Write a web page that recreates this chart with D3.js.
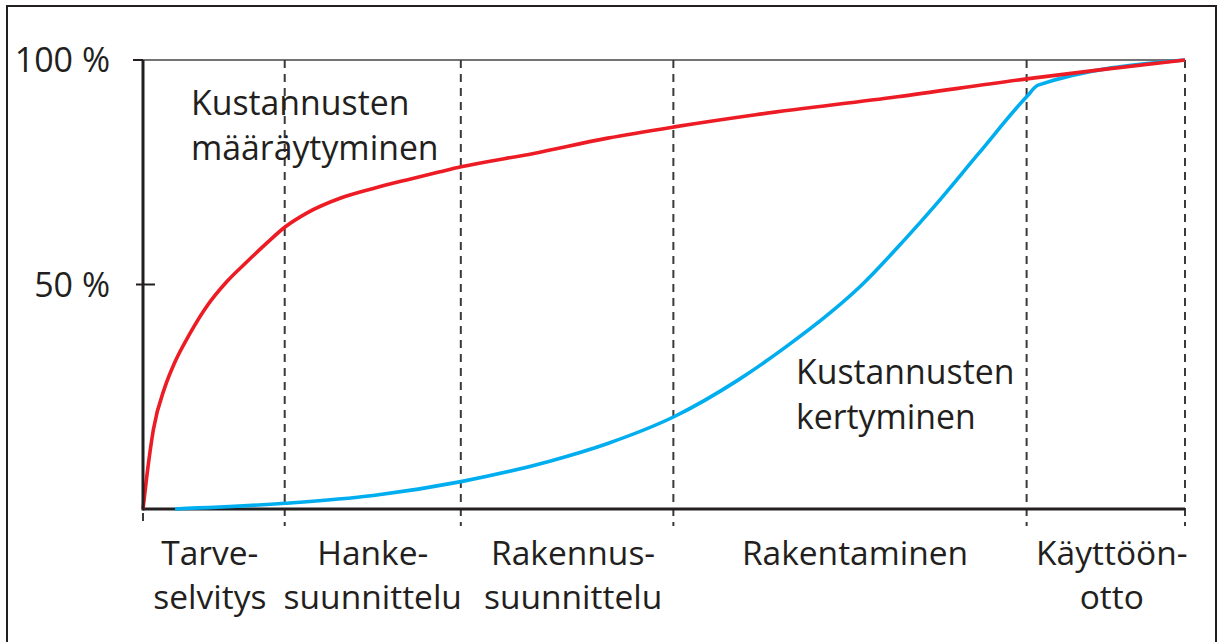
<!DOCTYPE html>
<html>
<head>
<meta charset="utf-8">
<script src="https://cdn.jsdelivr.net/npm/d3@7"></script>
<style>
  html, body { margin: 0; padding: 0; background: #fff; }
  svg { display: block; }
  text { font-family: "Open Sans", sans-serif; fill: #231f20; }
</style>
</head>
<body>
<svg id="chart" width="1219" height="642"></svg>
<script>
// ---- data (t = % of project timeline, v = % of costs) ----
const phaseBounds = [0, 13.6, 30.5, 50.9, 84.8, 100];
const phaseLabels = [
  ["Tarve-", "selvitys"],
  ["Hanke-", "suunnittelu"],
  ["Rakennus-", "suunnittelu"],
  ["Rakentaminen"],
  ["Käyttöön-", "otto"]
];
const yTicks = [50, 100];
const yTickLabels = ["50 %", "100 %"];

const redT = [0, 0.36, 0.99, 2.11, 3.0, 4.51, 6.11, 8.03, 9.95, 11.87, 13.63, 15.71, 18.91, 22.1, 25.3, 28.5, 30.52, 37.5, 44.6, 51.0, 58.8, 72.4, 84.8, 91.8, 100];
const redV = [0, 7.2, 17.6, 27.2, 32.4, 39.1, 45.1, 50.6, 55.0, 59.2, 62.8, 65.9, 69.2, 71.4, 73.3, 75.1, 76.2, 79.2, 82.6, 85.1, 87.8, 91.8, 95.8, 97.8, 100];

const blueT = [3.07, 13.63, 22.1, 30.52, 38.95, 44.6, 51.0, 57.1, 61.7, 65.9, 68.8, 73.1, 75.9, 80.2, 84.8, 85.9, 100];
const blueV = [0, 1.27, 3.0, 6.1, 10.6, 14.6, 20.6, 28.7, 36.1, 43.6, 49.5, 60.0, 67.3, 79.2, 91.8, 94.4, 100];

const redLabel = ["Kustannusten", "määräytyminen"];
const blueLabel = ["Kustannusten", "kertyminen"];

// ---- layout ----
const svg = d3.select("#chart");
const x = d3.scaleLinear().domain([0, 100]).range([143, 1185]);
const y = d3.scaleLinear().domain([0, 100]).range([509, 60]);
const ink = "#231f20";

// outer frame
svg.append("rect").attr("x", 7).attr("y", 6).attr("width", 1209).attr("height", 660)
  .attr("fill", "none").attr("stroke", ink).attr("stroke-width", 2);

// top line at 100 %
svg.append("line").attr("x1", x(0)).attr("x2", x(100)).attr("y1", y(100)).attr("y2", y(100))
  .attr("stroke", "#444").attr("stroke-width", 1.6);

// dashed phase separators
svg.selectAll("line.sep").data(phaseBounds).enter().append("line")
  .attr("class", "sep")
  .attr("x1", d => x(d)).attr("x2", d => x(d))
  .attr("y1", d => d === 0 ? y(0) + 4 : y(100))
  .attr("y2", y(0) + 17)
  .attr("stroke", "#3a3a3a").attr("stroke-width", 2)
  .attr("stroke-dasharray", "8,6");

// lines
const line = d3.line().x(d => x(d[0])).y(d => y(d[1])).curve(d3.curveMonotoneX);
const redData = redT.map((t, i) => [t, redV[i]]);
const blueData = blueT.map((t, i) => [t, blueV[i]]);

// bottom axis
svg.append("line").attr("x1", x(0)).attr("x2", x(100)).attr("y1", y(0)).attr("y2", y(0))
  .attr("stroke", ink).attr("stroke-width", 3.2);

svg.append("path").datum(blueData).attr("d", line)
  .attr("fill", "none").attr("stroke", "#00aeef").attr("stroke-width", 3.6)
  .attr("stroke-linejoin", "round");
svg.append("path").datum(redData).attr("d", line)
  .attr("fill", "none").attr("stroke", "#ed1c24").attr("stroke-width", 3.6)
  .attr("stroke-linejoin", "round");

// left axis
svg.append("line").attr("x1", x(0)).attr("x2", x(0)).attr("y1", y(100)).attr("y2", y(0) + 1.5)
  .attr("stroke", ink).attr("stroke-width", 3);

// y ticks
svg.selectAll("line.ytick").data(yTicks).enter().append("line")
  .attr("class", "ytick")
  .attr("x1", d => d === 100 ? x(0) - 10 : x(0) - 7)
  .attr("x2", d => d === 100 ? x(0) : x(0) + 12)
  .attr("y1", d => y(d)).attr("y2", d => y(d))
  .attr("stroke", ink).attr("stroke-width", 2);
svg.selectAll("text.ylab").data(yTicks).enter().append("text")
  .attr("class", "ylab")
  .attr("x", 110).attr("y", d => y(d) + 12)
  .attr("text-anchor", "end").attr("font-size", 34)
  .text((d, i) => yTickLabels[i]);

// phase labels
const labelShift = [-4, 0, 6, 5, 6];
phaseLabels.forEach((lines, i) => {
  const cx = x((phaseBounds[i] + phaseBounds[i + 1]) / 2) + labelShift[i];
  lines.forEach((s, j) => {
    svg.append("text").attr("x", cx).attr("y", 565 + j * 44)
      .attr("text-anchor", "middle").attr("font-size", 33.5).text(s);
  });
});

// series labels
redLabel.forEach((s, j) => {
  svg.append("text").attr("x", 191).attr("y", 115 + j * 45)
    .attr("font-size", 33.8).text(s);
});
blueLabel.forEach((s, j) => {
  svg.append("text").attr("x", 796).attr("y", 384 + j * 45)
    .attr("font-size", 33.8).text(s);
});
</script>
</body>
</html>
